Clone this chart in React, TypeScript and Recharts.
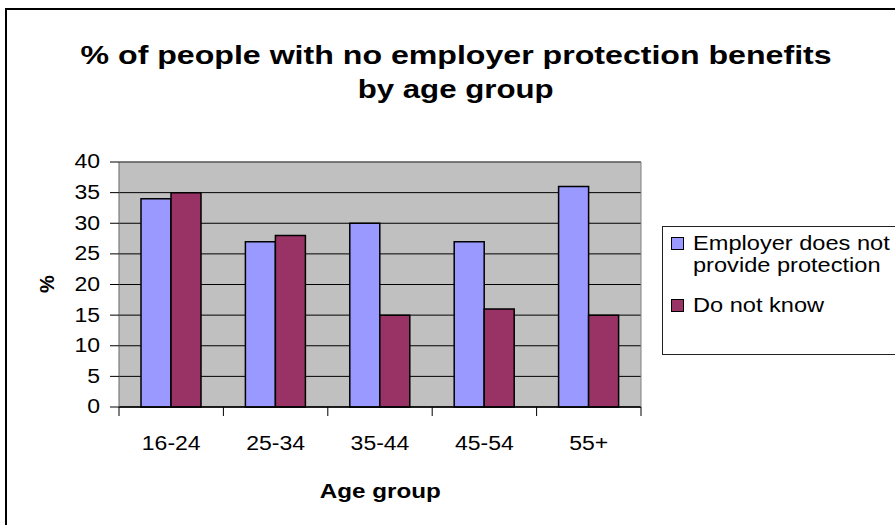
import React from "react";
import { BarChart, Bar, XAxis, YAxis, CartesianGrid } from "recharts";

const ageGroups = ["16-24", "25-34", "35-44", "45-54", "55+"];
const noProtection = [34, 27, 30, 27, 36];
const doNotKnow = [35, 28, 15, 16, 15];
const yTicks = [0, 5, 10, 15, 20, 25, 30, 35, 40];

const series = [
  { key: "noProtection", lines: ["Employer does not", "provide protection"], color: "#9999ff" },
  { key: "doNotKnow", lines: ["Do not know"], color: "#993366" },
];

const data = ageGroups.map((group, i) => ({
  group,
  noProtection: noProtection[i],
  doNotKnow: doNotKnow[i],
}));

const W = 895;
const H = 525;
const FONT = "'Liberation Sans', Arial, Helvetica, sans-serif";
// the old export is a little wider than tall, so text gets stretched sideways
const SX = 1.18;

const XTick = (props: any) => {
  const { x, y, payload, index, width } = props;
  const band = width / ageGroups.length;
  const last = index === ageGroups.length - 1;
  return (
    <g>
      <line x1={x - band / 2} x2={x - band / 2} y1={y} y2={y + 9} stroke="#000" />
      {last && <line x1={x + band / 2} x2={x + band / 2} y1={y} y2={y + 9} stroke="#000" />}
      <text
        transform={`translate(${x},${y + 37}) scale(${SX},1)`}
        textAnchor="middle"
        dominantBaseline="central"
        fontFamily={FONT}
        fontSize={19.5}
        fill="#000"
      >
        {payload.value}
      </text>
    </g>
  );
};

const YTick = (props: any) => {
  const { x, y, payload } = props;
  return (
    <text
      transform={`translate(${x},${y}) scale(${SX},1)`}
      textAnchor="end"
      dominantBaseline="central"
      fontFamily={FONT}
      fontSize={19.5}
      fill="#000"
    >
      {payload.value}
    </text>
  );
};

const stretched = (sx: number, origin: string): React.CSSProperties => ({
  display: "inline-block",
  transform: `scaleX(${sx})`,
  transformOrigin: origin,
  whiteSpace: "nowrap",
});

export default function App() {
  return (
    <div
      style={{
        position: "absolute",
        left: 0,
        top: 0,
        width: W,
        height: H,
        overflow: "hidden",
        background: "#fff",
        fontFamily: FONT,
      }}
    >
      {/* chart frame, runs off the right and bottom edges */}
      <div
        style={{
          position: "absolute",
          left: 5,
          top: 8,
          width: 1000,
          height: 700,
          border: "2px solid #000",
        }}
      />

      <div
        style={{
          position: "absolute",
          left: 0,
          top: 38,
          width: 912,
          textAlign: "center",
          fontWeight: "bold",
          fontSize: 26,
          lineHeight: "34px",
        }}
      >
        <div>
          <span style={stretched(1.235, "center")}>% of people with no employer protection benefits</span>
        </div>
        <div>
          <span style={stretched(1.2, "center")}>by age group</span>
        </div>
      </div>

      <div style={{ position: "absolute", left: 0, top: 0 }}>
        <BarChart
          width={W}
          height={H}
          data={data}
          margin={{ top: 161, right: 253, bottom: 58, left: 59 }}
          barGap={0}
          barSize={30}
        >
          <CartesianGrid
            vertical={false}
            stroke="#000"
            strokeWidth={1}
            fill="#c0c0c0"
            fillOpacity={1}
          />
          <XAxis
            dataKey="group"
            height={60}
            tickSize={0}
            tickMargin={0}
            tickLine={false}
            axisLine={{ stroke: "#000", strokeWidth: 1.5 }}
            tick={<XTick />}
            interval={0}
          />
          <XAxis
            xAxisId="top"
            dataKey="group"
            orientation="top"
            height={1}
            tick={false}
            tickLine={false}
            axisLine={{ stroke: "#808080" }}
          />
          <YAxis
            width={60}
            domain={[0, 40]}
            ticks={yTicks}
            interval={0}
            tickSize={9}
            tickMargin={10}
            tickLine={{ stroke: "#000" }}
            axisLine={{ stroke: "#666" }}
            tick={<YTick />}
          />
          <YAxis
            yAxisId="right"
            orientation="right"
            width={1}
            domain={[0, 40]}
            tick={false}
            tickLine={false}
            axisLine={{ stroke: "#808080" }}
          />
          {series.map((s) => (
            <Bar
              key={s.key}
              dataKey={s.key}
              fill={s.color}
              stroke="#000"
              strokeWidth={1.5}
              isAnimationActive={false}
            />
          ))}
        </BarChart>
      </div>

      {/* axis titles */}
      <div
        style={{
          position: "absolute",
          left: 27,
          top: 272,
          width: 40,
          height: 24,
          lineHeight: "24px",
          textAlign: "center",
          fontWeight: "bold",
          fontSize: 20,
          transform: "rotate(-90deg)",
        }}
      >
        %
      </div>
      <div
        style={{
          position: "absolute",
          left: 119,
          top: 478,
          width: 522,
          textAlign: "center",
          fontWeight: "bold",
          fontSize: 20.5,
          lineHeight: "26px",
        }}
      >
        <span style={stretched(SX, "center")}>Age group</span>
      </div>

      {/* legend */}
      <div
        style={{
          position: "absolute",
          left: 662,
          top: 226,
          width: 260,
          height: 129,
          border: "1.5px solid #222",
          boxSizing: "border-box",
          paddingTop: 5,
          fontSize: 19.5,
          lineHeight: "22px",
        }}
      >
        {series.map((s, i) => (
          <div key={s.key} style={{ position: "relative", marginTop: i === 0 ? 0 : 18, paddingLeft: 30 }}>
            <div
              style={{
                position: "absolute",
                left: 8,
                top: 5,
                width: 11,
                height: 11,
                background: s.color,
                border: "1px solid #000",
              }}
            />
            {s.lines.map((line) => (
              <div key={line}>
                <span style={stretched(1.21, "left")}>{line}</span>
              </div>
            ))}
          </div>
        ))}
      </div>
    </div>
  );
}
